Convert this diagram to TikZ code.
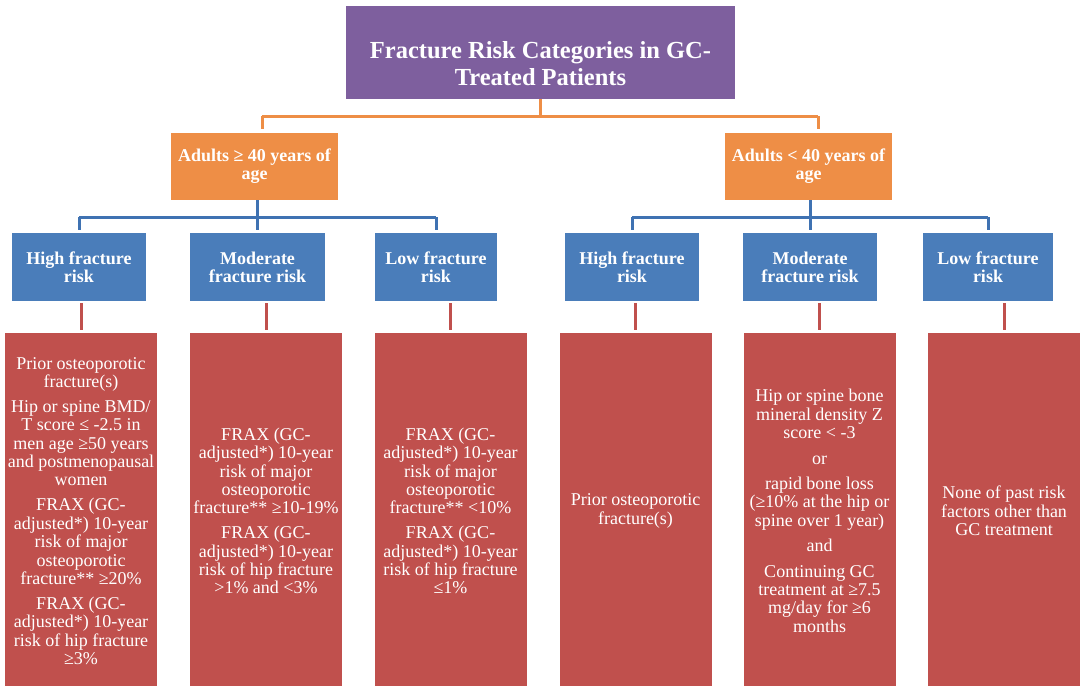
\documentclass[tikz,border=0pt]{standalone}
\usepackage{fontspec}
\setmainfont{Liberation Serif}
\definecolor{cpurple}{HTML}{7E5F9E}
\definecolor{corange}{HTML}{EE8E46}
\definecolor{cblue}{HTML}{4A7DBA}
\definecolor{cblueline}{HTML}{3F72B2}
\definecolor{cred}{HTML}{C0504D}
\begin{document}
\begin{tikzpicture}[x=1pt,y=-1pt,
  titlebox/.style={fill=cpurple, minimum width=389pt, minimum height=93pt, inner sep=0pt},
  titletext/.style={text=white, font=\fontsize{24.5}{27}\selectfont\bfseries, align=center, inner sep=0pt},
  agebox/.style={fill=corange, minimum width=167pt, minimum height=67pt, inner sep=0pt, text=white, font=\fontsize{18}{18}\selectfont\bfseries, align=center},
  riskbox/.style={fill=cblue, minimum height=68pt, inner sep=0pt, text=white, font=\fontsize{18}{18}\selectfont\bfseries, align=center},
  critbox/.style={fill=cred, minimum width=152pt, minimum height=356pt, inner sep=0pt, text=white, font=\fontsize{18}{18.4}\selectfont, align=center},
  oline/.style={draw=corange, line width=3pt},
  bline/.style={draw=cblueline, line width=3pt},
  rline/.style={draw=cred, line width=3pt}
]
\fill[white] (0,0) rectangle (1080,686);
\clip (0,0) rectangle (1080,686);

% title
\node[titlebox] (title) at (540.5,52.5) {};
\node[titletext] (titlet) at (540.5,63.5) {Fracture Risk Categories in GC-\\Treated Patients};

% age groups
\node[agebox] (ageL) at (254.5,166.5) {Adults ≥ 40 years of\\age};
\node[agebox] (ageR) at (808.5,166.5) {Adults < 40 years of\\age};

% risk boxes
\node[riskbox, minimum width=134pt] (rLH) at (79,267) {High fracture\\risk};
\node[riskbox, minimum width=135pt] (rLM) at (257.5,267) {Moderate\\fracture risk};
\node[riskbox, minimum width=122pt] (rLL) at (436,267) {Low fracture\\risk};
\node[riskbox, minimum width=134pt] (rRH) at (632,267) {High fracture\\risk};
\node[riskbox, minimum width=134pt] (rRM) at (810,267) {Moderate\\fracture risk};
\node[riskbox, minimum width=130pt] (rRL) at (988,267) {Low fracture\\risk};

% criteria boxes
\node[critbox] (cLH) at (81,511) {Prior osteoporotic\\fracture(s)\\[6.5pt]Hip or spine BMD/\\T score ≤ -2.5 in\\men age ≥50 years\\and postmenopausal\\women\\[6.5pt]FRAX (GC-\\adjusted*) 10-year\\risk of major\\osteoporotic\\fracture** ≥20\%\\[6.5pt]FRAX (GC-\\adjusted*) 10-year\\risk of hip fracture\\≥3\%};
\node[critbox] (cLM) at (266,511) {FRAX (GC-\\adjusted*) 10-year\\risk of major\\osteoporotic\\fracture** ≥10-19\%\\[6.5pt]FRAX (GC-\\adjusted*) 10-year\\risk of hip fracture\\>1\% and <3\%};
\node[critbox] (cLL) at (450.5,511) {FRAX (GC-\\adjusted*) 10-year\\risk of major\\osteoporotic\\fracture** <10\%\\[6.5pt]FRAX (GC-\\adjusted*) 10-year\\risk of hip fracture\\≤1\%};
\node[critbox] (cRH) at (635.5,511) {Prior osteoporotic\\fracture(s)};
\node[critbox] (cRM) at (819.5,511) {Hip or spine bone\\mineral density Z\\score < -3\\[7pt]or\\[7pt]rapid bone loss\\(≥10\% at the hip or\\spine over 1 year)\\[7pt]and\\[7pt]Continuing GC\\treatment at ≥7.5\\mg/day for ≥6\\months};
\node[critbox] (cRL) at (1004,511) {None of past risk\\factors other than\\GC treatment};

% orange connectors
\coordinate (ojL) at (262,116);
\coordinate (ojR) at (818,116);
\draw[oline] (title.south) -- (title.south |- ojL);
\draw[oline] (ojL) -- (ojR);
\draw[oline, shorten >=4pt] (ojL) -- (ojL |- ageL.north);
\draw[oline, shorten >=4pt] (ojR) -- (ojR |- ageR.north);

% blue connectors
\coordinate (bjL) at (257.5,217);
\coordinate (bjR) at (810,217);
\draw[bline] (ageL.south -| bjL) -- (bjL);
\draw[bline] (rLH.north |- bjL) -- (rLL.north |- bjL);
\draw[bline, shorten >=3pt] (rLH.north |- bjL) -- (rLH.north);
\draw[bline, shorten >=3pt] (bjL) -- (rLM.north);
\draw[bline, shorten >=3pt] (rLL.north |- bjL) -- (rLL.north);
\draw[bline] (ageR.south -| bjR) -- (bjR);
\draw[bline] (rRH.north |- bjR) -- (rRL.north |- bjR);
\draw[bline, shorten >=3pt] (rRH.north |- bjR) -- (rRH.north);
\draw[bline, shorten >=3pt] (bjR) -- (rRM.north);
\draw[bline, shorten >=3pt] (rRL.north |- bjR) -- (rRL.north);

% red connectors
\foreach \r/\c in {rLH/cLH, rLM/cLM, rLL/cLL, rRH/cRH, rRM/cRM, rRL/cRL}{
  \draw[rline, shorten <=2pt, shorten >=3pt] (\r.south -| \c.north) -- (\c.north);
}
\end{tikzpicture}
\end{document}
